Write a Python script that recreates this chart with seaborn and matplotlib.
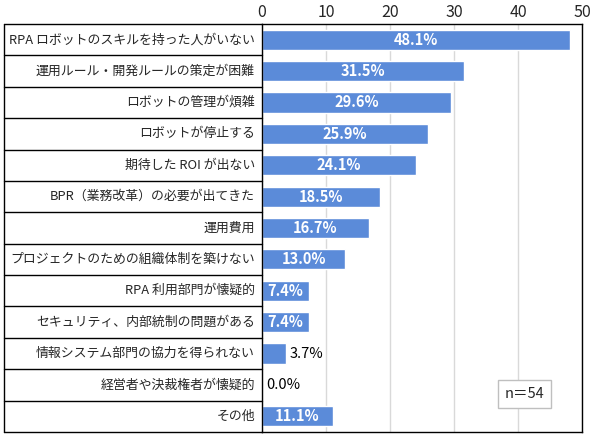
import numpy as np
import pandas as pd
import matplotlib
matplotlib.use('Agg')
import matplotlib.pyplot as plt
import matplotlib.transforms as mtransforms
import seaborn as sns

# data
categories = ['RPA ロボットのスキルを持った人がいない', '運用ルール・開発ルールの策定が困難',
              'ロボットの管理が煩雑', 'ロボットが停止する', '期待した ROI が出ない',
              'BPR（業務改革）の必要が出てきた', '運用費用', 'プロジェクトのための組織体制を築けない',
              'RPA 利用部門が懐疑的', 'セキュリティ、内部統制の問題がある', '情報システム部門の協力を得られない',
              '経営者や決裁権者が懐疑的', 'その他']
values = [48.1, 31.5, 29.6, 25.9, 24.1, 18.5, 16.7, 13.0, 7.4, 7.4, 3.7, 0.0, 11.1]
x_ticks = [0, 10, 20, 30, 40, 50]
n_label = 'n＝54'

df = pd.DataFrame({'item': categories, 'pct': values})

sns.set_style('white')
plt.rcParams['font.family'] = ['Noto Sans CJK JP', 'DejaVu Sans']

fig = plt.figure(figsize=(5.9, 4.37), dpi=100)
ax = fig.add_axes([262/590, 1-432/437, 320/590, 408/437])

sns.barplot(data=df, x='pct', y='item', color='#5B8BD9', width=0.64, saturation=1, ax=ax)

n = len(categories)
ax.set_xlim(0, 50)
ax.set_ylim(n - 0.5, -0.5)
ax.set_xticks(x_ticks)
ax.xaxis.tick_top()
ax.tick_params(axis='x', length=0, labelsize=11.5, pad=2)
ax.set_xlabel('')
ax.set_ylabel('')
ax.set_yticks([])
ax.grid(axis='x', color='#D9D9D9', linewidth=1)
ax.set_axisbelow(True)
for s in ax.spines.values():
    s.set_color('black')
    s.set_linewidth(1)

# bar labels
for i, v in enumerate(values):
    txt = f'{v:.1f}%'
    if v >= 6:
        ax.text(v/2, i, txt, ha='center', va='center', color='white',
                fontsize=10.5, fontweight='bold')
    else:
        ax.text(v + 0.6, i, txt, ha='left', va='center', color='black', fontsize=10.5)

# label table on the left
trans = mtransforms.blended_transform_factory(ax.transAxes, ax.transData)
left = (4 - 262) / 320
for i, c in enumerate(categories):
    ax.text(-0.022, i, c, transform=trans, ha='right', va='center', fontsize=9.3)
for b in np.arange(-0.5, n, 1):
    ax.plot([left, 0], [b, b], color='black', linewidth=1, transform=trans, clip_on=False)
ax.plot([left, left], [-0.5, n - 0.5], color='black', linewidth=1,
        transform=trans, clip_on=False)

# n box
ax.text(0.821, 0.093, n_label, transform=ax.transAxes, ha='center', va='center', fontsize=10.5,
        bbox=dict(boxstyle='square,pad=0.45', fc='white', ec='#BFBFBF', lw=1))

fig.savefig('out.png', dpi=100)
